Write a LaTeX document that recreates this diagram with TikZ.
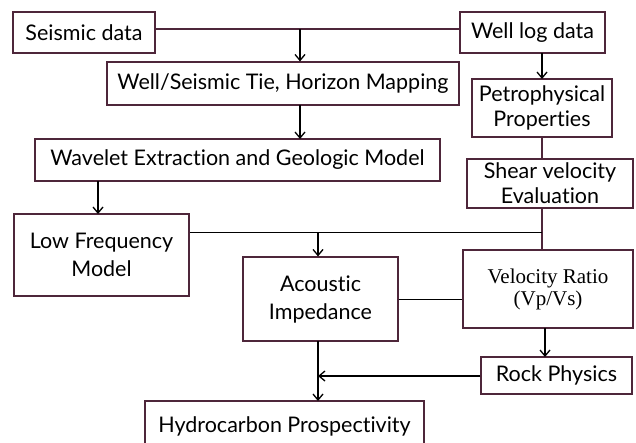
\documentclass[tikz,border=0pt]{standalone}
\usepackage{fontspec}
\setmainfont{Lato}[Ligatures={NoCommon}]
\newfontfamily\serifface{Liberation Serif}
\usetikzlibrary{arrows.meta}
\definecolor{boxline}{RGB}{78,38,58}
\tikzset{
  box/.style={draw=boxline, line width=1.1pt, fill=white, align=center,
    inner sep=0pt, font=\fontsize{21.5}{25}\selectfont},
  tallbox/.style={box, font=\fontsize{21.5}{28}\selectfont},
  flow/.style={draw=black, line width=1.3pt, -{Straight Barb[length=6pt,width=10pt,line width=1.3pt]}},
  link/.style={draw=boxline, line width=1.1pt},
  plain/.style={draw=black, line width=1pt},
}
\begin{document}
\begin{tikzpicture}[x=1pt,y=-1pt]
\useasboundingbox (0,0) rectangle (636,442);
\clip (0,0) rectangle (636,442);
\fill[white] (0,0) rectangle (636,442);

% boxes
\node[box, minimum width=142pt, minimum height=41pt] (seis) at (84,32.5) {Seismic data};
\node[box, minimum width=145pt, minimum height=41pt] (well) at (532.5,32.5) {Well log data};
\node[box, minimum width=352pt, minimum height=43pt] (tie) at (283,83.5) {Well/Seismic Tie, Horizon Mapping};
\node[box, minimum width=140pt, minimum height=58pt] (petro) at (542,108) {Petrophysical\\Properties};
\node[box, minimum width=405pt, minimum height=42pt] (wav) at (237.5,160) {Wavelet Extraction and Geologic Model};
\node[box, minimum width=166pt, minimum height=49pt] (shear) at (550,183.5) {Shear velocity\\Evaluation};
\node[tallbox, minimum width=175pt, minimum height=82pt] (lf) at (101.5,255) {Low Frequency\\Model};
\node[tallbox, minimum width=155pt, minimum height=84pt] (ai) at (320.5,299) {Acoustic\\Impedance};
\node[box, minimum width=170pt, minimum height=78pt, font=\serifface\fontsize{21}{22}\selectfont] (vel) at (548,289) {Velocity Ratio\\(Vp/Vs)};
\node[box, minimum width=151pt, minimum height=37pt] (rock) at (556.5,375.5) {Rock Physics};
\node[box, minimum width=279pt, minimum height=51pt] (hc) at (284.5,426.5) {Hydrocarbon Prospectivity};

% junction points
\coordinate (jtop) at (300,29);
\coordinate (jmid) at (542,232);
\coordinate (jai) at (318,232);
\coordinate (jrock) at (318,376);

% connectors
\draw[link] (seis.east |- jtop) -- (well.west |- jtop);
\draw[flow] (jtop) -- (jtop |- tie.north);
\draw[flow] (542,53) -- (542,79);
\draw[flow] (300,105) -- (300,139);
\draw[link] (petro.south) -- (petro.south |- shear.north);
\draw[flow] (98,181) -- (98,214);
\draw[link] (shear.south -| jmid) -- (vel.north -| jmid);
\draw[plain] (jmid) -- (lf.east |- jmid);
\draw[flow] (jai) -- (jai |- ai.north);
\draw[plain] (ai.east) -- (vel.west |- ai.east);
\draw[flow] (545,328) -- (545,357);
\draw[flow] (rock.west |- jrock) -- (jrock);
\draw[flow] (318,341) -- (318,401);
\end{tikzpicture}
\end{document}
